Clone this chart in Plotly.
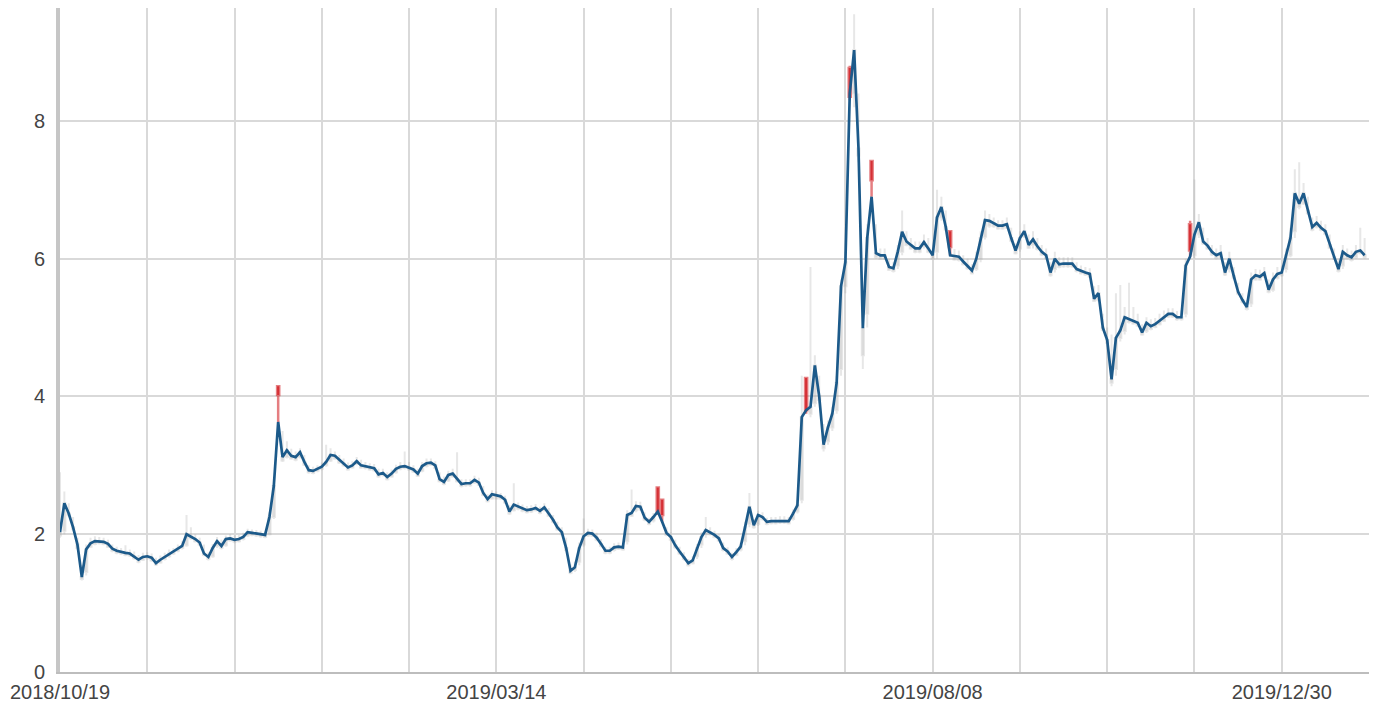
import plotly.graph_objects as go

# trading-day index labels
tick_index = [0, 100, 200, 280]
tick_labels = ["2018/10/19", "2019/03/14", "2019/08/08", "2019/12/30"]
grid_step = 20
n_axis = 300

close = [
    2.03, 2.45, 2.3, 2.1, 1.85, 1.38, 1.78, 1.87, 1.9, 1.9,
    1.89, 1.86, 1.79, 1.76, 1.74, 1.73, 1.72, 1.68, 1.63, 1.67,
    1.68, 1.66, 1.58, 1.63, 1.67, 1.72, 1.75, 1.79, 1.83, 2.0,
    1.97, 1.93, 1.88, 1.72, 1.67, 1.8, 1.9, 1.83, 1.93, 1.94,
    1.92, 1.93, 1.96, 2.03, 2.02, 2.01, 2.0, 1.99, 2.25, 2.7,
    3.63, 3.12, 3.22, 3.14, 3.12, 3.19, 3.05, 2.93, 2.92, 2.95,
    2.98, 3.05, 3.15, 3.14, 3.08, 3.03, 2.97, 3.0, 3.06, 3.0,
    2.99, 2.97, 2.96, 2.87, 2.89, 2.83, 2.88, 2.95, 2.98, 2.99,
    2.97, 2.94, 2.88, 2.99, 3.03, 3.04, 3.0, 2.8, 2.76, 2.86,
    2.88, 2.8, 2.73, 2.74, 2.74, 2.79, 2.75, 2.6, 2.51, 2.58,
    2.56, 2.55, 2.5, 2.33, 2.43, 2.4, 2.37, 2.35, 2.36, 2.38,
    2.34, 2.39, 2.3, 2.21, 2.1, 2.03, 1.8, 1.47, 1.52, 1.8,
    1.97, 2.02, 2.01, 1.95, 1.86, 1.76, 1.76, 1.81, 1.82, 1.81,
    2.28, 2.31, 2.41, 2.4, 2.24, 2.18, 2.25, 2.33, 2.18, 2.02,
    1.96, 1.84, 1.75, 1.67, 1.58, 1.62, 1.8, 1.96, 2.06, 2.03,
    1.99, 1.94, 1.8, 1.75, 1.67, 1.74, 1.82, 2.1, 2.4, 2.13,
    2.28, 2.25, 2.18, 2.19, 2.19, 2.2, 2.2, 2.19, 2.3, 2.42,
    3.7, 3.8, 3.85, 4.45, 4.0, 3.3, 3.55, 3.75, 4.2, 5.6,
    5.95, 8.4, 9.03, 7.6, 4.99, 6.3, 6.9, 6.08, 6.05, 6.05,
    5.88, 5.86, 6.1, 6.39, 6.25, 6.2, 6.15, 6.15, 6.24, 6.15,
    6.05, 6.6, 6.75, 6.46, 6.05, 6.04, 6.03, 5.96, 5.9, 5.83,
    6.0, 6.3, 6.56, 6.55, 6.52, 6.48, 6.48, 6.5, 6.3, 6.12,
    6.3, 6.4, 6.2, 6.28, 6.18, 6.1, 6.05, 5.8, 6.0, 5.92,
    5.93, 5.93, 5.93, 5.85, 5.82, 5.8, 5.78, 5.42, 5.5, 5.0,
    4.82, 4.25, 4.85, 4.96, 5.15, 5.12, 5.1, 5.07, 4.93, 5.07,
    5.02, 5.05, 5.1, 5.15, 5.2, 5.2, 5.15, 5.15, 5.9, 6.03,
    6.35, 6.53, 6.25, 6.19, 6.1, 6.05, 6.08, 5.8, 6.0, 5.75,
    5.52, 5.4, 5.3, 5.7, 5.76, 5.74, 5.79, 5.55, 5.7, 5.78,
    5.8, 6.05, 6.3, 6.95, 6.8, 6.95, 6.7, 6.46, 6.52, 6.45,
    6.4, 6.2, 6.03, 5.85, 6.1, 6.05, 6.02, 6.1, 6.12, 6.05,
]

high = [
    2.9, 2.62, 2.45, 2.25, 1.95, 1.55, 1.85, 1.95, 1.97, 1.96,
    1.95, 1.92, 1.85, 1.82, 1.8, 1.84, 1.78, 1.75, 1.7, 1.73,
    1.74, 1.72, 1.66, 1.69, 1.73, 1.78, 1.8, 1.85, 1.9, 2.28,
    2.1, 2.0, 1.95, 1.85, 1.74, 1.86, 1.96, 1.92, 1.98, 2.0,
    1.98, 1.99, 2.02, 2.08, 2.07, 2.06, 2.05, 2.04, 2.32, 2.8,
    4.15, 3.5, 3.35, 3.24, 3.2, 3.25, 3.15, 3.0, 2.98, 3.0,
    3.04, 3.3, 3.25, 3.2, 3.15, 3.1, 3.04, 3.06, 3.12, 3.08,
    3.05, 3.03, 3.02, 2.95, 2.95, 2.9, 2.94, 3.01, 3.05, 3.2,
    3.05, 3.0, 2.95, 3.05, 3.1, 3.1, 3.06, 2.9, 2.84, 2.92,
    2.95, 3.19, 2.8, 2.8, 2.8, 2.85, 2.82, 2.7, 2.58, 2.64,
    2.62, 2.6, 2.56, 2.42, 2.74, 2.46, 2.43, 2.41, 2.42, 2.44,
    2.4, 2.45, 2.38, 2.28, 2.18, 2.1, 1.95, 1.56, 1.6, 1.88,
    2.23, 2.08, 2.07, 2.02, 1.93, 1.82, 1.82, 1.87, 1.88, 1.88,
    2.35, 2.65, 2.48, 2.47, 2.32, 2.24, 2.31, 2.68, 2.5, 2.1,
    2.03, 1.92, 1.82, 1.74, 1.64, 1.68, 1.86, 2.03, 2.25, 2.1,
    2.05, 2.0, 1.88, 1.81, 1.73, 1.8, 1.88, 2.18, 2.6, 2.22,
    2.34, 2.32, 2.24, 2.25, 2.25, 2.26, 2.26, 2.25, 2.36, 2.5,
    4.3, 4.27, 5.88, 4.6, 4.3, 3.6, 3.65, 3.85, 4.3, 5.7,
    6.1, 8.8, 9.55, 8.4, 5.5, 6.5, 7.42, 6.5, 6.15, 6.15,
    6.0, 5.95, 6.2, 6.7, 6.4, 6.3, 6.25, 6.25, 6.35, 6.3,
    6.15, 7.0, 6.9, 6.7, 6.4, 6.14, 6.12, 6.05, 6.0, 5.92,
    6.1, 6.4, 6.7, 6.65, 6.6, 6.56, 6.56, 6.6, 6.45, 6.22,
    6.4, 6.5, 6.35, 6.4, 6.3, 6.2, 6.15, 5.95, 6.1, 6.02,
    6.02, 6.02, 6.02, 5.95, 5.9, 5.88, 5.86, 5.6, 5.62, 5.2,
    5.0, 4.9, 5.5, 5.62, 5.3, 5.65, 5.3, 5.2, 5.05, 5.15,
    5.12, 5.14, 5.2, 5.25, 5.28, 5.28, 5.24, 5.25, 6.0, 6.55,
    7.15, 6.65, 6.45, 6.3, 6.2, 6.15, 6.2, 5.95, 6.1, 5.88,
    5.65, 5.5, 5.4, 5.8, 5.85, 5.84, 5.88, 5.7, 5.8, 5.88,
    5.9, 6.15, 6.45, 7.3, 7.4, 7.1, 6.9, 6.6, 6.62, 6.55,
    6.5, 6.35, 6.15, 6.0, 6.2, 6.15, 6.12, 6.2, 6.45, 6.3,
]

low = [
    1.95, 2.0, 2.25, 2.05, 1.78, 1.33, 1.4, 1.8, 1.84, 1.85,
    1.84, 1.8, 1.74, 1.71, 1.7, 1.68, 1.67, 1.63, 1.58, 1.61,
    1.63, 1.6, 1.54, 1.57, 1.62, 1.66, 1.7, 1.74, 1.78, 1.82,
    1.92, 1.88, 1.83, 1.68, 1.62, 1.66, 1.8, 1.78, 1.82, 1.89,
    1.87, 1.88, 1.91, 1.96, 1.97, 1.96, 1.95, 1.94, 1.98, 2.22,
    3.63, 3.05, 3.1, 3.08, 3.06, 3.1, 2.99, 2.88, 2.87, 2.9,
    2.93, 2.98, 3.05, 3.08, 3.02, 2.98, 2.92, 2.95, 3.0, 2.95,
    2.94, 2.92, 2.91, 2.82, 2.84, 2.78, 2.82, 2.88, 2.93, 2.94,
    2.92, 2.89, 2.83, 2.9, 2.97, 2.99, 2.94, 2.75, 2.71, 2.76,
    2.82, 2.75, 2.68, 2.69, 2.69, 2.73, 2.7, 2.55, 2.46, 2.5,
    2.5, 2.5, 2.44, 2.28, 2.33, 2.35, 2.32, 2.3, 2.31, 2.33,
    2.29, 2.33, 2.25, 2.16, 2.05, 1.98, 1.75, 1.42, 1.45, 1.55,
    1.82, 1.96, 1.96, 1.9, 1.81, 1.71, 1.71, 1.75, 1.77, 1.76,
    1.85, 2.25, 2.32, 2.34, 2.19, 2.13, 2.17, 2.28, 2.18, 1.97,
    1.9, 1.79, 1.7, 1.62, 1.53, 1.56, 1.64, 1.8, 1.95, 1.98,
    1.94, 1.89, 1.75, 1.7, 1.62, 1.68, 1.75, 1.84, 2.1, 2.08,
    2.12, 2.2, 2.13, 2.14, 2.14, 2.15, 2.15, 2.14, 2.2, 2.3,
    2.45, 3.75, 3.7, 3.85, 3.9, 3.2, 3.3, 3.5, 3.75, 4.3,
    5.5, 8.3, 8.2, 7.4, 4.4, 5.0, 6.9, 6.0, 5.98, 5.98,
    5.82, 5.8, 5.85, 6.05, 6.18, 6.13, 6.08, 6.08, 6.15, 6.08,
    5.98, 6.0, 6.55, 6.4, 6.05, 5.97, 5.96, 5.9, 5.84, 5.77,
    5.82, 5.95, 6.28, 6.45, 6.45, 6.42, 6.42, 6.43, 6.24, 6.06,
    6.1, 6.3, 6.14, 6.15, 6.12, 6.04, 5.99, 5.74, 5.8, 5.86,
    5.87, 5.87, 5.87, 5.8, 5.77, 5.75, 5.72, 5.37, 5.38, 4.95,
    4.76, 4.15, 4.3, 4.8, 4.9, 5.06, 5.04, 5.01, 4.88, 4.92,
    4.96, 4.99, 5.03, 5.08, 5.14, 5.14, 5.1, 5.1, 5.15, 6.03,
    6.0, 6.3, 6.2, 6.13, 6.04, 5.99, 6.0, 5.75, 5.8, 5.7,
    5.47, 5.35, 5.25, 5.3, 5.68, 5.68, 5.72, 5.5, 5.52, 5.7,
    5.74, 5.8, 6.02, 6.3, 6.72, 6.78, 6.64, 6.4, 6.44, 6.4,
    6.34, 6.14, 5.98, 5.8, 5.85, 5.99, 5.96, 6.0, 6.06, 6.0,
]

open_ = [
    1.98, 2.05, 2.28, 2.08, 1.8, 1.35, 1.45, 1.82, 1.86, 1.87,
    1.86, 1.82, 1.76, 1.73, 1.72, 1.7, 1.69, 1.65, 1.6, 1.63,
    1.65, 1.62, 1.56, 1.59, 1.64, 1.68, 1.72, 1.76, 1.8, 1.84,
    1.94, 1.9, 1.85, 1.7, 1.64, 1.68, 1.83, 1.8, 1.84, 1.91,
    1.89, 1.9, 1.93, 1.98, 1.99, 1.98, 1.97, 1.96, 2.0, 2.25,
    4.15, 3.07, 3.12, 3.1, 3.08, 3.12, 3.01, 2.9, 2.89, 2.92,
    2.95, 3.0, 3.07, 3.1, 3.04, 3.0, 2.94, 2.97, 3.02, 2.97,
    2.96, 2.94, 2.93, 2.84, 2.86, 2.8, 2.84, 2.9, 2.95, 2.96,
    2.94, 2.91, 2.85, 2.92, 2.99, 3.01, 2.96, 2.77, 2.73, 2.78,
    2.84, 2.77, 2.7, 2.71, 2.71, 2.75, 2.72, 2.57, 2.48, 2.52,
    2.52, 2.52, 2.46, 2.3, 2.35, 2.37, 2.34, 2.32, 2.33, 2.35,
    2.31, 2.35, 2.27, 2.18, 2.07, 2.0, 1.77, 1.44, 1.48, 1.6,
    1.85, 1.98, 1.98, 1.92, 1.83, 1.73, 1.73, 1.77, 1.79, 1.78,
    1.9, 2.27, 2.35, 2.36, 2.21, 2.15, 2.2, 2.68, 2.5, 1.99,
    1.92, 1.81, 1.72, 1.64, 1.55, 1.58, 1.68, 1.85, 2.0, 2.0,
    1.96, 1.91, 1.77, 1.72, 1.64, 1.7, 1.78, 1.9, 2.15, 2.1,
    2.15, 2.22, 2.15, 2.16, 2.16, 2.17, 2.17, 2.16, 2.22, 2.33,
    2.5, 4.27, 3.75, 3.9, 3.95, 3.25, 3.35, 3.55, 3.8, 4.4,
    5.6, 8.77, 8.4, 7.5, 4.6, 5.2, 7.42, 6.02, 6.0, 6.0,
    5.84, 5.82, 5.9, 6.1, 6.2, 6.15, 6.1, 6.1, 6.18, 6.1,
    6.0, 6.1, 6.6, 6.42, 6.4, 5.99, 5.98, 5.92, 5.86, 5.79,
    5.85, 6.0, 6.32, 6.48, 6.47, 6.44, 6.44, 6.45, 6.26, 6.08,
    6.15, 6.32, 6.16, 6.2, 6.14, 6.06, 6.01, 5.76, 5.85, 5.88,
    5.89, 5.89, 5.89, 5.82, 5.79, 5.77, 5.74, 5.39, 5.4, 4.97,
    4.78, 4.2, 4.4, 4.85, 4.95, 5.08, 5.06, 5.03, 4.9, 4.95,
    4.98, 5.01, 5.05, 5.1, 5.16, 5.16, 5.12, 5.12, 5.2, 6.5,
    6.05, 6.35, 6.22, 6.15, 6.06, 6.01, 6.02, 5.77, 5.85, 5.72,
    5.49, 5.37, 5.27, 5.35, 5.7, 5.7, 5.74, 5.52, 5.55, 5.72,
    5.76, 5.85, 6.05, 6.4, 6.75, 6.8, 6.66, 6.42, 6.46, 6.42,
    6.36, 6.16, 6.0, 5.82, 5.9, 6.01, 5.98, 6.02, 6.08, 6.02,
]

# candle closes that sit above the blue line (red candles)
red_day = [50, 137, 138, 171, 181, 186, 204, 259]
red_close = [4.02, 2.33, 2.28, 3.8, 8.35, 7.14, 6.17, 6.12]

candle_close = list(close)
for d, c in zip(red_day, red_close):
    candle_close[d] = c

day = list(range(len(close)))

grid_vals = list(range(0, n_axis + 1, grid_step))
label_map = dict(zip(tick_index, tick_labels))
grid_text = [label_map.get(v, "") for v in grid_vals]

fig = go.Figure()
fig.add_trace(go.Candlestick(
    x=day, open=open_, high=high, low=low, close=candle_close,
    increasing=dict(line=dict(color="rgba(170,170,170,0.28)", width=2),
                    fillcolor="rgba(170,170,170,0.22)"),
    decreasing=dict(line=dict(color="rgba(212,40,45,0.6)", width=2.5),
                    fillcolor="rgba(212,40,45,0.9)"),
    hoverinfo="skip",
))
fig.add_trace(go.Scatter(
    x=day, y=close, mode="lines",
    line=dict(color="#1c5a8a", width=2.7),
    hoverinfo="skip",
))

# the page body adds an 8px offset, so the figure is sized to fit the window
fig.update_layout(
    width=1370, height=707,
    margin=dict(l=52, r=9, t=0, b=43),
    plot_bgcolor="white", paper_bgcolor="white",
    showlegend=False,
    font=dict(family="Liberation Sans, Arial, sans-serif", size=20, color="#444444"),
)
fig.update_xaxes(
    range=[0, n_axis], tickmode="array", tickvals=grid_vals, ticktext=grid_text,
    showgrid=True, gridcolor="#d9d9d9", gridwidth=1.5,
    showline=True, linecolor="#bdbdbd", linewidth=2,
    zeroline=False, ticks="", rangeslider=dict(visible=False),
    ticklabelstandoff=1, automargin=False,
)
fig.update_yaxes(
    range=[0, 9.64], tickmode="array", tickvals=[0, 2, 4, 6, 8],
    showgrid=True, gridcolor="#d9d9d9", gridwidth=1.5,
    showline=True, linecolor="#c6c6c6", linewidth=4,
    zeroline=False, ticks="", ticklabelstandoff=7, automargin=False,
)

fig.write_html("out.html")
